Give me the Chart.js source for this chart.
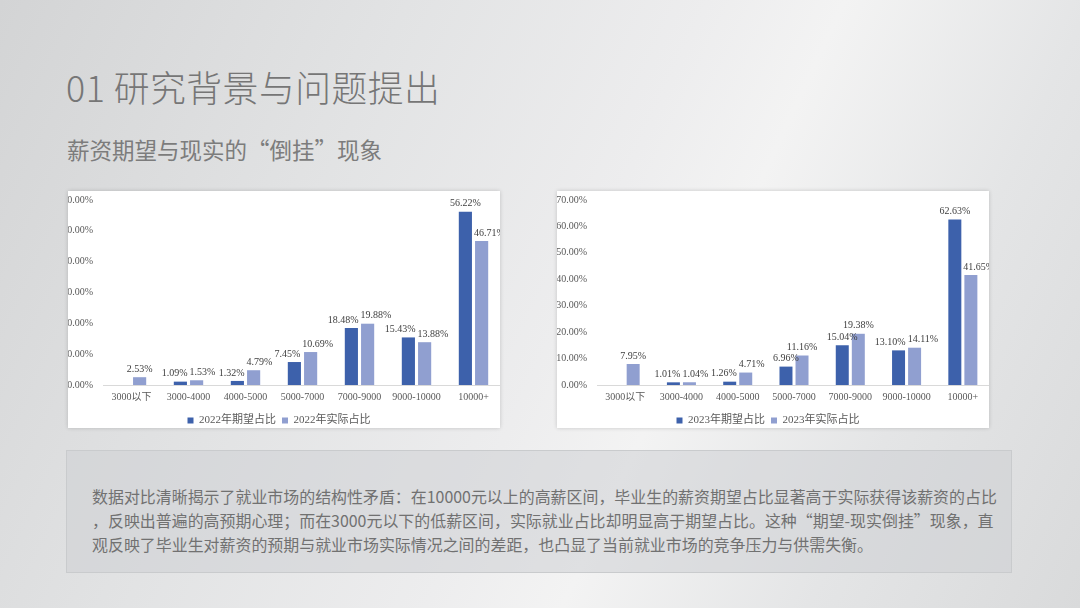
<!DOCTYPE html>
<html lang="zh">
<head>
  <meta charset="UTF-8">
  <title>研究背景与问题提出</title>
  <script src="https://cdn.jsdelivr.net/npm/chart.js"></script>
  <style>
    html, body { margin: 0; padding: 0; }
    body {
      width: 1080px; height: 608px; position: relative; overflow: hidden;
      background: linear-gradient(115deg, #d3d4d5 0%, #e2e3e4 30%, #ededee 52%, #f3f3f3 62%, #e4e5e6 80%, #d9dadb 100%);
      font-family: "Noto Sans CJK SC", "Noto Sans", sans-serif;
    }
    .titulo {
      position: absolute; left: 66px; top: 60px; font-size: 35.8px; font-weight: 300;
      color: #767676; letter-spacing: 0.5px; white-space: nowrap;
    }
    .subtitulo {
      position: absolute; left: 67px; top: 133px; font-size: 22.5px; color: #7c7c7c; white-space: nowrap;
    }
    .caja {
      position: absolute; top: 191px; width: 432px; height: 237px; overflow: hidden;
      background: #fff; box-shadow: 0 0 4px rgba(0,0,0,0.18);
    }
    .caja .lienzo { position: absolute; left: -12px; top: -7px; width: 446px; height: 252px; }
    .texto {
      position: absolute; left: 66px; top: 450px; width: 946px; height: 123px;
      background: rgba(205, 208, 211, 0.55); border: 1px solid #c9cbcd;
      box-sizing: border-box; color: #717171; font-size: 15.95px; line-height: 24px;
      padding: 33px 0 0 25px; white-space: nowrap;
    }
  </style>
</head>
<body>
  <div class="titulo">01 研究背景与问题提出</div>
  <div class="subtitulo">薪资期望与现实的“倒挂”现象</div>

  <div class="caja" style="left:68px"><div class="lienzo"><canvas id="chart2022"></canvas></div></div>
  <div class="caja" style="left:557px"><div class="lienzo"><canvas id="chart2023"></canvas></div></div>

  <div class="texto">
    数据对比清晰揭示了就业市场的结构性矛盾：在10000元以上的高薪区间，毕业生的薪资期望占比显著高于实际获得该薪资的占比<br>
    ，反映出普遍的高预期心理；而在3000元以下的低薪区间，实际就业占比却明显高于期望占比。这种“期望-现实倒挂”现象，直<br>
    观反映了毕业生对薪资的预期与就业市场实际情况之间的差距，也凸显了当前就业市场的竞争压力与供需失衡。
  </div>

  <script>
    // Datos (porcentajes)
    const categorias = ['3000以下', '3000-4000', '4000-5000', '5000-7000', '7000-9000', '9000-10000', '10000+'];
    const esperado2022 = [null, 1.09, 1.32, 7.45, 18.48, 15.43, 56.22];
    const real2022 = [2.53, 1.53, 4.79, 10.69, 19.88, 13.88, 46.71];
    const esperado2023 = [null, 1.01, 1.26, 6.96, 15.04, 13.10, 62.63];
    const real2023 = [7.95, 1.04, 4.71, 11.16, 19.38, 14.11, 41.65];
    const maxEje2022 = 60;
    const maxEje2023 = 70;

    const colorOscuro = '#3d61ab';
    const colorClaro = '#909fd0';
    const fuenteSerif = '"Liberation Serif", "Times New Roman", "Noto Sans CJK SC", serif';

    // etiquetas de datos encima de cada barra, separadas si se pisan
    const etiquetasPlugin = {
      id: 'etiquetas',
      afterDatasetsDraw(chart) {
        const ctx = chart.ctx;
        ctx.save();
        ctx.font = '10px ' + fuenteSerif;
        ctx.fillStyle = '#404040';
        ctx.textAlign = 'center';
        ctx.textBaseline = 'bottom';
        const m0 = chart.getDatasetMeta(0);
        const m1 = chart.getDatasetMeta(1);
        categorias.forEach((c, i) => {
          const items = [];
          [m0, m1].forEach((meta, d) => {
            const v = chart.data.datasets[d].data[i];
            if (v === null || v === undefined) return;
            const bar = meta.data[i];
            const txt = v.toFixed(2) + '%';
            items.push({ x: bar.x, y: bar.y - 3, txt: txt, w: ctx.measureText(txt).width, bar: bar });
          });
          if (items.length === 2) {
            const a = items[0], b = items[1];
            const solape = (a.x + a.w / 2) - (b.x - b.w / 2);
            if (solape > 0 && Math.abs(a.y - b.y) < 11) {
              a.x -= solape / 2 + 1;
              b.x += solape / 2 + 1;
            } else if (a.bar.y < b.y - 10) {
              // la barra oscura es más alta: mover la etiqueta clara a su derecha
              const derecha = a.bar.x + a.bar.width / 2 + 2;
              if (b.x - b.w / 2 < derecha) b.x = derecha + b.w / 2;
            }
          }
          items.forEach(it => ctx.fillText(it.txt, it.x, it.y));
        });
        ctx.restore();
      }
    };

    function crearGrafico(id, etiquetaEsp, etiquetaReal, datosEsp, datosReal, maxEje, anchoEje) {
      const ctx = document.getElementById(id).getContext('2d');
      return new Chart(ctx, {
        type: 'bar',
        data: {
          labels: categorias,
          datasets: [
            { label: etiquetaEsp, data: datosEsp, backgroundColor: colorOscuro,
              categoryPercentage: 0.57, barPercentage: 0.81 },
            { label: etiquetaReal, data: datosReal, backgroundColor: colorClaro,
              categoryPercentage: 0.57, barPercentage: 0.81 }
          ]
        },
        options: {
          responsive: true,
          maintainAspectRatio: false,
          animation: false,
          layout: { padding: { top: 2, right: 0, bottom: 0, left: 0 } },
          scales: {
            y: {
              min: 0, max: maxEje,
              ticks: {
                stepSize: 10, padding: 10, color: '#595959',
                font: { size: 10, family: fuenteSerif },
                callback: v => v.toFixed(2) + '%'
              },
              grid: { display: false, drawTicks: false },
              border: { display: false },
              afterFit: s => { s.width = anchoEje; }
            },
            x: {
              ticks: { color: '#595959', padding: 6, font: { size: 10, family: fuenteSerif }, maxRotation: 0 },
              grid: { display: false, drawTicks: false },
              border: { color: '#d9d9d9' }
            }
          },
          plugins: {
            legend: {
              position: 'bottom',
              labels: {
                boxWidth: 6, boxHeight: 6, padding: 6, color: '#595959',
                font: { size: 11, family: fuenteSerif }
              }
            },
            tooltip: { enabled: false }
          }
        },
        plugins: [etiquetasPlugin]
      });
    }

    crearGrafico('chart2022', '2022年期望占比', '2022年实际占比', esperado2022, real2022, maxEje2022, 47);
    crearGrafico('chart2023', '2023年期望占比', '2023年实际占比', esperado2023, real2023, maxEje2023, 52);
  </script>
</body>
</html>
